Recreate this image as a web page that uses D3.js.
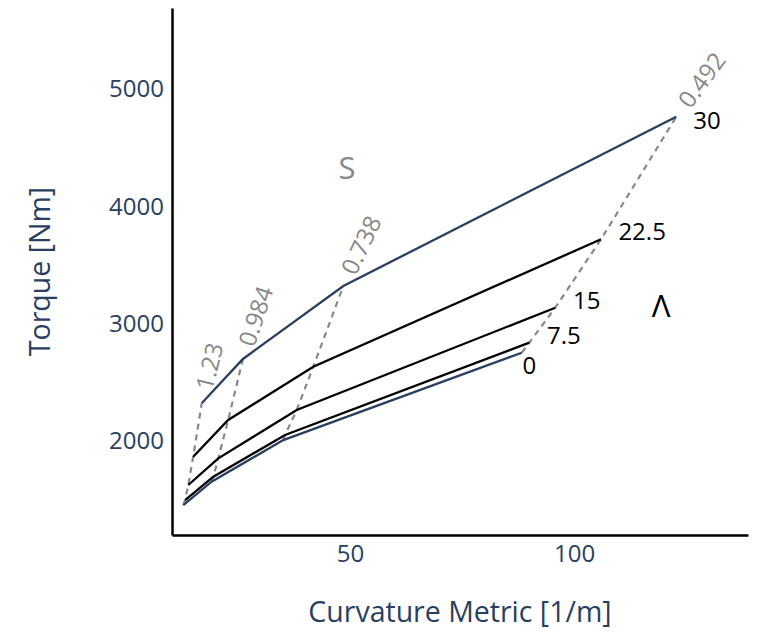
<!DOCTYPE html>
<html>
<head>
<meta charset="utf-8">
<script src="https://cdn.jsdelivr.net/npm/d3@7"></script>
<style>
  body { margin: 0; background: #fff; }
  svg { font-family: "Open Sans", verdana, arial, sans-serif; }
</style>
</head>
<body>
<svg id="chart" width="757" height="633"></svg>
<script>
// carpet parameters
const aValues = [0, 7.5, 15, 22.5, 30];
const bValues = [1.23, 0.984, 0.738, 0.492];

// one row per a value, one column per b value
const curvature = [
  [12.8, 19.1, 35.1, 88.3],
  [13.2, 19.5, 35.5, 90.0],
  [13.9, 20.6, 38.1, 95.8],
  [15.0, 22.8, 41.8, 106.0],
  [16.9, 26.1, 48.5, 122.8],
];
const torque = [
  [1454, 1653, 2008, 2752],
  [1497, 1696, 2051, 2838],
  [1625, 1852, 2264, 3136],
  [1866, 2179, 2633, 3719],
  [2321, 2699, 3321, 4764],
];

const xTicks = [50, 100];
const yTicks = [2000, 3000, 4000, 5000];

const aTitle = 'Λ';
const bTitle = 'S';
const aTitlePos = [119.4, 3150];
const bTitlePos = [49.3, 4327];

const cs = {
  margin: { left: 172, right: 9, top: 8, bottom: 98 },
  font: { tick: 24, title: 28.5, carpetTitle: 31 },
  palette: {
    text: '#2a3f5f',
    edge: '#2a3f5f',
    inner: '#000',
    bLine: '#888',
    bLabel: '#888',
  },
};

const svg = d3.select('#chart');
const W = +svg.attr('width');
const H = +svg.attr('height');
const x0 = cs.margin.left;
const x1 = W - cs.margin.right;
const y0 = H - cs.margin.bottom;
const y1 = cs.margin.top;

const x = d3.scaleLinear().domain([10.27, 138.8]).range([x0, x1]);
const y = d3.scaleLinear().domain([1199, 5690]).range([y0, y1]);

const pt = (i, j) => [x(curvature[i][j]), y(torque[i][j])];
const line = d3.line();

// b lines (constant S), dashed
bValues.forEach((b, j) => {
  svg.append('path')
    .attr('d', line(aValues.map((a, i) => pt(i, j))))
    .attr('fill', 'none')
    .attr('stroke', cs.palette.bLine)
    .attr('stroke-width', 2.2)
    .attr('stroke-dasharray', '6,5');
});

// a lines (constant Λ)
aValues.forEach((a, i) => {
  const edge = i === 0 || i === aValues.length - 1;
  svg.append('path')
    .attr('d', line(bValues.map((b, j) => pt(i, j))))
    .attr('fill', 'none')
    .attr('stroke', edge ? cs.palette.edge : cs.palette.inner)
    .attr('stroke-width', 2.3);
});

// a labels at the far end of each a line
const aNudge = [[-17, 19], [0, 0], [0, 0], [0, 0], [0, 13]];
aValues.forEach((a, i) => {
  const n = bValues.length;
  const p = pt(i, n - 1);
  const q = pt(i, n - 2);
  const len = Math.hypot(p[0] - q[0], p[1] - q[1]);
  const ux = (p[0] - q[0]) / len;
  const uy = (p[1] - q[1]) / len;
  svg.append('text')
    .attr('x', p[0] + ux * 19 + aNudge[i][0])
    .attr('y', p[1] + uy * 19 + aNudge[i][1])
    .attr('dy', '0.35em')
    .attr('font-size', cs.font.tick)
    .attr('fill', '#000')
    .text(a);
});

// b labels beyond the top end of each b line, rotated along it
bValues.forEach((b, j) => {
  const n = aValues.length;
  const p = pt(n - 1, j);
  const q = pt(n - 2, j);
  const len = Math.hypot(p[0] - q[0], p[1] - q[1]);
  const ux = (p[0] - q[0]) / len;
  const uy = (p[1] - q[1]) / len;
  const ang = Math.atan2(uy, ux) * 180 / Math.PI + 5;
  const tx = p[0] + ux * 14;
  const ty = p[1] + uy * 14;
  svg.append('text')
    .attr('transform', `translate(${tx},${ty}) rotate(${ang})`)
    .attr('dy', '0.35em')
    .attr('font-size', cs.font.tick)
    .attr('fill', cs.palette.bLabel)
    .text(b);
});

// carpet axis titles
svg.append('text')
  .attr('x', x(bTitlePos[0])).attr('y', y(bTitlePos[1]))
  .attr('dy', '0.35em').attr('text-anchor', 'middle')
  .attr('font-size', cs.font.carpetTitle)
  .attr('fill', cs.palette.bLabel)
  .text(bTitle);
svg.append('text')
  .attr('x', x(aTitlePos[0])).attr('y', y(aTitlePos[1]))
  .attr('dy', '0.35em').attr('text-anchor', 'middle')
  .attr('font-size', cs.font.carpetTitle)
  .attr('fill', '#000')
  .text(aTitle);

// cartesian axes
const xAxis = svg.append('g')
  .attr('transform', `translate(0,${y0})`)
  .call(d3.axisBottom(x).tickValues(xTicks).tickSize(0).tickPadding(10));
const yAxis = svg.append('g')
  .attr('transform', `translate(${x0},0)`)
  .call(d3.axisLeft(y).tickValues(yTicks).tickSize(0).tickPadding(8).tickFormat(d3.format('d')));

[xAxis, yAxis].forEach(g => {
  g.select('.domain').attr('stroke', '#000').attr('stroke-width', 2.5);
  g.selectAll('text')
    .attr('font-size', cs.font.tick)
    .attr('font-family', '"Open Sans", verdana, arial, sans-serif')
    .attr('fill', cs.palette.text);
});
xAxis.selectAll('text').attr('dy', '0.71em');

svg.append('text')
  .attr('x', (x0 + x1) / 2).attr('y', 612)
  .attr('dy', '0.35em').attr('text-anchor', 'middle')
  .attr('font-size', cs.font.title)
  .attr('fill', cs.palette.text)
  .text('Curvature Metric [1/m]');

svg.append('text')
  .attr('transform', `translate(40,${(y0 + y1) / 2}) rotate(-90)`)
  .attr('dy', '0.35em').attr('text-anchor', 'middle')
  .attr('font-size', cs.font.title)
  .attr('fill', cs.palette.text)
  .text('Torque [Nm]');
</script>
</body>
</html>
